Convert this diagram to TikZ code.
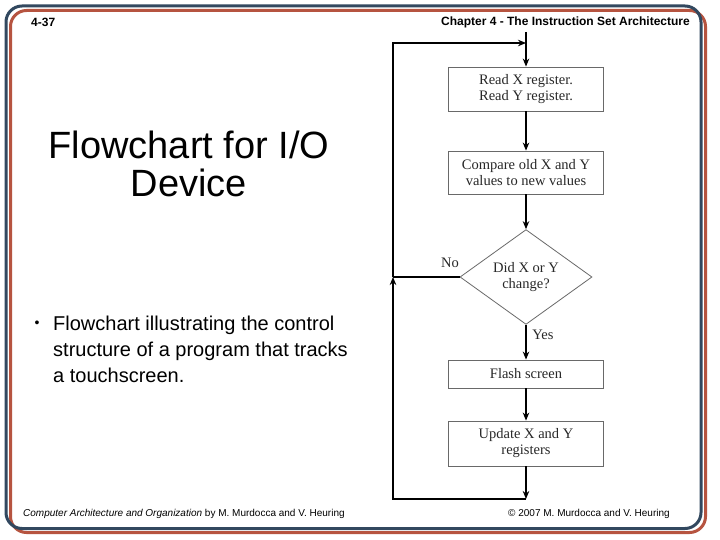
\documentclass[tikz,border=0pt]{standalone}
\usepackage{fontspec}
\setmainfont{Liberation Sans}
\newfontfamily\flowserif{Liberation Serif}
\usetikzlibrary{arrows.meta,shapes.geometric}
\definecolor{frameblue}{RGB}{50,72,95}
\definecolor{framered}{RGB}{182,84,64}
\definecolor{boxline}{RGB}{105,105,105}
\definecolor{boxtext}{RGB}{40,40,40}
\begin{document}
\begin{tikzpicture}[x=1pt,y=-1pt,
  fbox/.style={draw=boxline, line width=0.8pt, minimum width=155pt, inner sep=0pt,
    align=center, font=\flowserif\fontsize{14.5}{16}\selectfont, text=boxtext},
  decbox/.style={diamond, draw=boxline, line width=0.8pt, minimum width=132pt,
    minimum height=88pt, inner sep=0pt, align=center,
    font=\flowserif\fontsize{14.5}{16}\selectfont, text=boxtext},
  lbl/.style={font=\flowserif\fontsize{14.5}{16}\selectfont, text=boxtext, inner sep=0pt},
  ln/.style={draw=black, line width=1.2pt},
  arr/.style={ln, -{Stealth[length=8pt,width=6.5pt,inset=2.5pt]}},
  frame/.style={line width=3pt, rounded corners=16pt}]
\useasboundingbox (0,0) rectangle (720,540);
\fill[white] (0,0) rectangle (720,540);
% slide frame
\draw[frame, draw=framered] (10.5,10.5) rectangle (705.5,532.5);
\draw[frame, draw=frameblue] (6,6) rectangle (701,528.5);
% header / footer
\node[anchor=west, inner sep=0pt, font=\bfseries\fontsize{12}{14}\selectfont] (pg) at (31,22) {4-37};
\node[anchor=east, inner sep=0pt, font=\bfseries\fontsize{12}{14}\selectfont] (hdr) at (690,22) {Chapter 4 - The Instruction Set Architecture};
\node[anchor=west, inner sep=0pt, font=\fontsize{10}{12}\selectfont] (ftl) at (23,514) {\textit{Computer Architecture and Organization} by M. Murdocca and V. Heuring};
\node[anchor=west, inner sep=0pt, font=\fontsize{10}{12}\selectfont] (ftr) at (508,514) {© 2007 M. Murdocca and V. Heuring};
% title and bullet
\node[align=center, inner sep=0pt, font=\fontsize{38}{38}\selectfont] (title) at (189,164) {Flowchart for I/O\\Device};
\node[inner sep=0pt, font=\fontsize{14}{16}\selectfont] (bul) at (37,324) {•};
\node[anchor=north west, align=left, inner sep=0pt, font=\fontsize{20}{26}\selectfont] (btxt) at (53,316)
  {Flowchart illustrating the control\\structure of a program that tracks\\a touchscreen.};
% flowchart
\node[fbox, minimum height=44pt] (read) at (526,89) {Read X register.\\Read Y register.};
\node[fbox, minimum height=43pt] (cmp) at (526,172.5) {Compare old X and Y\\values to new values};
\node[decbox] (dec) at (526,277) {Did X or Y\\change?};
\node[fbox, minimum height=28pt] (flash) at (526,374) {Flash screen};
\node[fbox, minimum height=45pt] (upd) at (526,443.5) {Update X and Y\\registers};
\node[lbl] (no) at (450,263) {No};
\node[lbl] (yes) at (543,335) {Yes};
\coordinate (top) at (526,32);
\coordinate (loopin) at (526,43);
\coordinate (tl) at (393,43);
\coordinate (bot) at (526,499);
\coordinate (bl) at (393,499);
\coordinate (join) at (393,277);
\draw[arr] (top) -- (read.north);
\draw[arr] (read) -- (cmp);
\draw[arr] (cmp) -- (dec.north);
\draw[arr] (dec.south) -- (flash);
\draw[arr] (flash) -- (upd);
\draw[arr] (upd) -- (bot);
\draw[arr] (bot) -- (bl) -- (join);
\draw[ln] (dec.west) -- (join);
\draw[arr] (join) -- (tl) -- (loopin);
\end{tikzpicture}
\end{document}
